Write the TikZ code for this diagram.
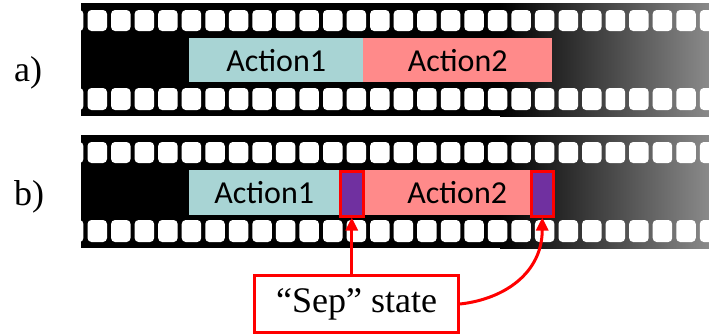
\documentclass[tikz,border=0pt]{standalone}
\usepackage{fontspec}
\setmainfont{Liberation Serif}
\newfontfamily\actfont{Carlito}
\usetikzlibrary{arrows.meta}
\definecolor{actA}{RGB}{168,212,212}
\definecolor{actB}{RGB}{255,138,138}
\definecolor{sepP}{RGB}{112,48,160}
\newcommand\filmstrip[1]{%
  \begin{scope}[shift={(0,#1)}]
    \fill[black] (81,0) rectangle (501,113);
    \shade[left color=black, right color=black!46] (500,0) rectangle (709,113);
    \begin{scope}
      \clip (81,0) rectangle (709,113);
      \foreach \k in {-1,...,26} {
        \fill[white, rounded corners=4pt] ({87.5+23.55*\k},7) rectangle +(19.5,21);
        \fill[white, rounded corners=4pt] ({87.5+23.55*\k},85) rectangle +(19.5,22);
      }
    \end{scope}
  \end{scope}}
\begin{document}
\begin{tikzpicture}[x=1pt,y=-1pt,
  actbox/.style={draw=none, inner sep=0pt, anchor=north west,
    font=\actfont\fontsize{32}{32}\selectfont},
  sepbox/.style={draw=red, line width=2.5pt, fill=sepP, inner sep=0pt,
    anchor=north west, minimum height=45pt},
  arr/.style={draw=red, line width=3pt, -{Triangle[length=13pt,width=12pt]}},
  lbl/.style={anchor=base west, inner sep=0pt, font=\fontsize{36}{36}\selectfont}]
\useasboundingbox (0,0) rectangle (709,333);
\fill[white] (0,0) rectangle (709,333);

\filmstrip{3}
\filmstrip{135}

\node[lbl] (la) at (14,81) {a)};
\node[lbl] (lb) at (14,205) {b)};

% a)
\node[actbox, fill=actA, minimum width=174pt, minimum height=44pt] (a1) at (189,38) {Action1};
\node[actbox, fill=actB, minimum width=189pt, minimum height=44pt] (a2) at (363,38) {Action2};

% b)
\node[actbox, fill=actA, minimum width=150pt, minimum height=45pt] (b1) at (189,170) {Action1};
\node[actbox, fill=actB, minimum width=168pt, minimum height=45pt] (b2) at (362,170) {};
\node[font=\actfont\fontsize{32}{32}\selectfont, inner sep=0pt] (b2t) at ([xshift=11pt]b2.center) {Action2};
\node[sepbox, minimum width=23pt] (s1) at (339,170) {};
\node[sepbox, minimum width=22pt] (s2) at (530,170) {};

% Sep state
\node[draw=red, line width=3pt, fill=white, anchor=north west, inner sep=0pt,
  minimum width=204pt, minimum height=57pt, font=\fontsize{36}{36}\selectfont] (sep) at (253,274) {“Sep” state};

\draw[arr] (s1.south |- sep.north) -- (s1.south);
\draw[arr] (sep.east) .. controls +(45,-5) and +(0,55) .. (s2.south);
\end{tikzpicture}
\end{document}
